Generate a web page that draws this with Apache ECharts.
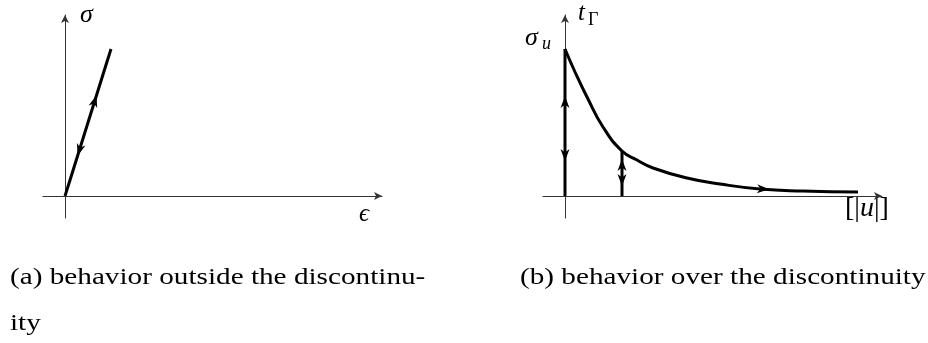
<!DOCTYPE html>
<html>
<head>
<meta charset="utf-8">
<script src="https://cdn.jsdelivr.net/npm/echarts@6/dist/echarts.min.js"></script>
<style>
  html, body { margin: 0; padding: 0; background: #fff; }
  #main { width: 928px; height: 343px; }
</style>
</head>
<body>
<div id="main"></div>
<script>
// (a) behaviour outside the discontinuity: elastic line, loading / unloading
var lineA = [[0, 0], [4.6, 14.7]];
var arrowsA = [[2.97, 9.5, 'up'], [1.44, 4.6, 'down']];

// (b) behaviour over the discontinuity: traction vs jump [|u|]
var vertB1 = [[0, 0], [0, 14.7]];
var vertB2 = [[5.7, 0], [5.7, 4.5]];
var curveB = [
  [0, 14.7], [1.0, 12.4], [2.2, 9.9], [3.8, 6.9], [5.7, 4.5],
  [7.2, 3.6], [8.8, 2.8], [12.2, 1.8], [15.5, 1.2],
  [19.5, 0.7], [23.8, 0.5], [29.3, 0.4]
];
// x, y, direction in degrees (0 = right, 90 = up)
var arrowsB = [[0, 9.4, 90], [0, 4.1, -90], [5.7, 3.1, 90], [5.7, 1.6, -90], [19.8, 0.7, -3]];

var chart = echarts.init(document.getElementById('main'));

var slopeA = Math.atan2(lineA[1][1] - lineA[0][1], lineA[1][0] - lineA[0][0]) * 180 / Math.PI;
var arrowHead = 'path://M0,0 L6,12 L0,8.5 L-6,12 Z';
var serif = '"Liberation Serif", "DejaVu Serif", serif';

function axisOpts(min, max) {
  return {
    type: 'value', min: min, max: max,
    axisLine: {
      show: true, onZero: true,
      symbol: ['none', 'arrow'], symbolSize: [6, 8],
      lineStyle: { color: '#333', width: 1 }
    },
    axisTick: { show: false },
    axisLabel: { show: false },
    splitLine: { show: false }
  };
}

function arrowData(list, fn) {
  return list.map(function (a) {
    return { value: [a[0], a[1]], symbolRotate: fn(a) - 90 };
  });
}

function thick(idx, data, smooth) {
  return {
    type: 'line', xAxisIndex: idx, yAxisIndex: idx, data: data,
    smooth: smooth || false, symbol: 'none', silent: true, clip: false,
    lineStyle: { color: '#000', width: 3 }
  };
}

function arrows(idx, data) {
  return {
    type: 'scatter', xAxisIndex: idx, yAxisIndex: idx, data: data,
    symbol: arrowHead, symbolSize: [9, 12], silent: true, z: 5,
    itemStyle: { color: '#000', opacity: 1 }
  };
}

function txt(x, y, s, size, italic, extra) {
  var o = {
    type: 'text', left: x, top: y,
    style: {
      text: s, fill: '#000', font: (italic ? 'italic ' : '') + size + 'px ' + serif
    }
  };
  if (extra) { for (var k in extra) o[k] = extra[k]; }
  return o;
}

// captions are set in a wide roman face, so stretch them a little
var wide = { scaleX: 1.27 };

chart.setOption({
  animation: false,
  grid: [
    { left: 43, top: 15, width: 339, height: 203 },
    { left: 543, top: 15, width: 339, height: 203 }
  ],
  xAxis: [axisOpts(-2.2, 31.7), Object.assign(axisOpts(-2.2, 31.7), { gridIndex: 1 })],
  yAxis: [axisOpts(-2.2, 18.1), Object.assign(axisOpts(-2.2, 18.1), { gridIndex: 1 })],
  series: [
    thick(0, lineA),
    arrows(0, arrowData(arrowsA, function (a) { return a[2] === 'up' ? slopeA : slopeA + 180; })),
    thick(1, vertB1),
    thick(1, vertB2),
    thick(1, curveB, 0.5),
    arrows(1, arrowData(arrowsB, function (a) { return a[2]; }))
  ],
  graphic: [
    txt(80, 2, 'σ', 26, true),
    txt(359, 202, 'ϵ', 25, true),
    txt(578, 1, 't', 25, true),
    txt(588, 11, 'Γ', 18, false),
    txt(525, 25, 'σ', 26, true),
    txt(542, 35, 'u', 18, true),
    {
      type: 'text', left: 845, top: 195,
      style: {
        text: '{r|[|}{i|u}{r||]}',
        rich: {
          r: { font: '28px ' + serif, fill: '#000' },
          i: { font: 'italic 28px ' + serif, fill: '#000' }
        }
      }
    },
    txt(10, 266, '(a) behavior outside the discontinu-', 23, false, wide),
    txt(10, 312, 'ity', 23, false, wide),
    txt(520, 266, '(b) behavior over the discontinuity', 23, false, wide)
  ]
});
</script>
</body>
</html>
